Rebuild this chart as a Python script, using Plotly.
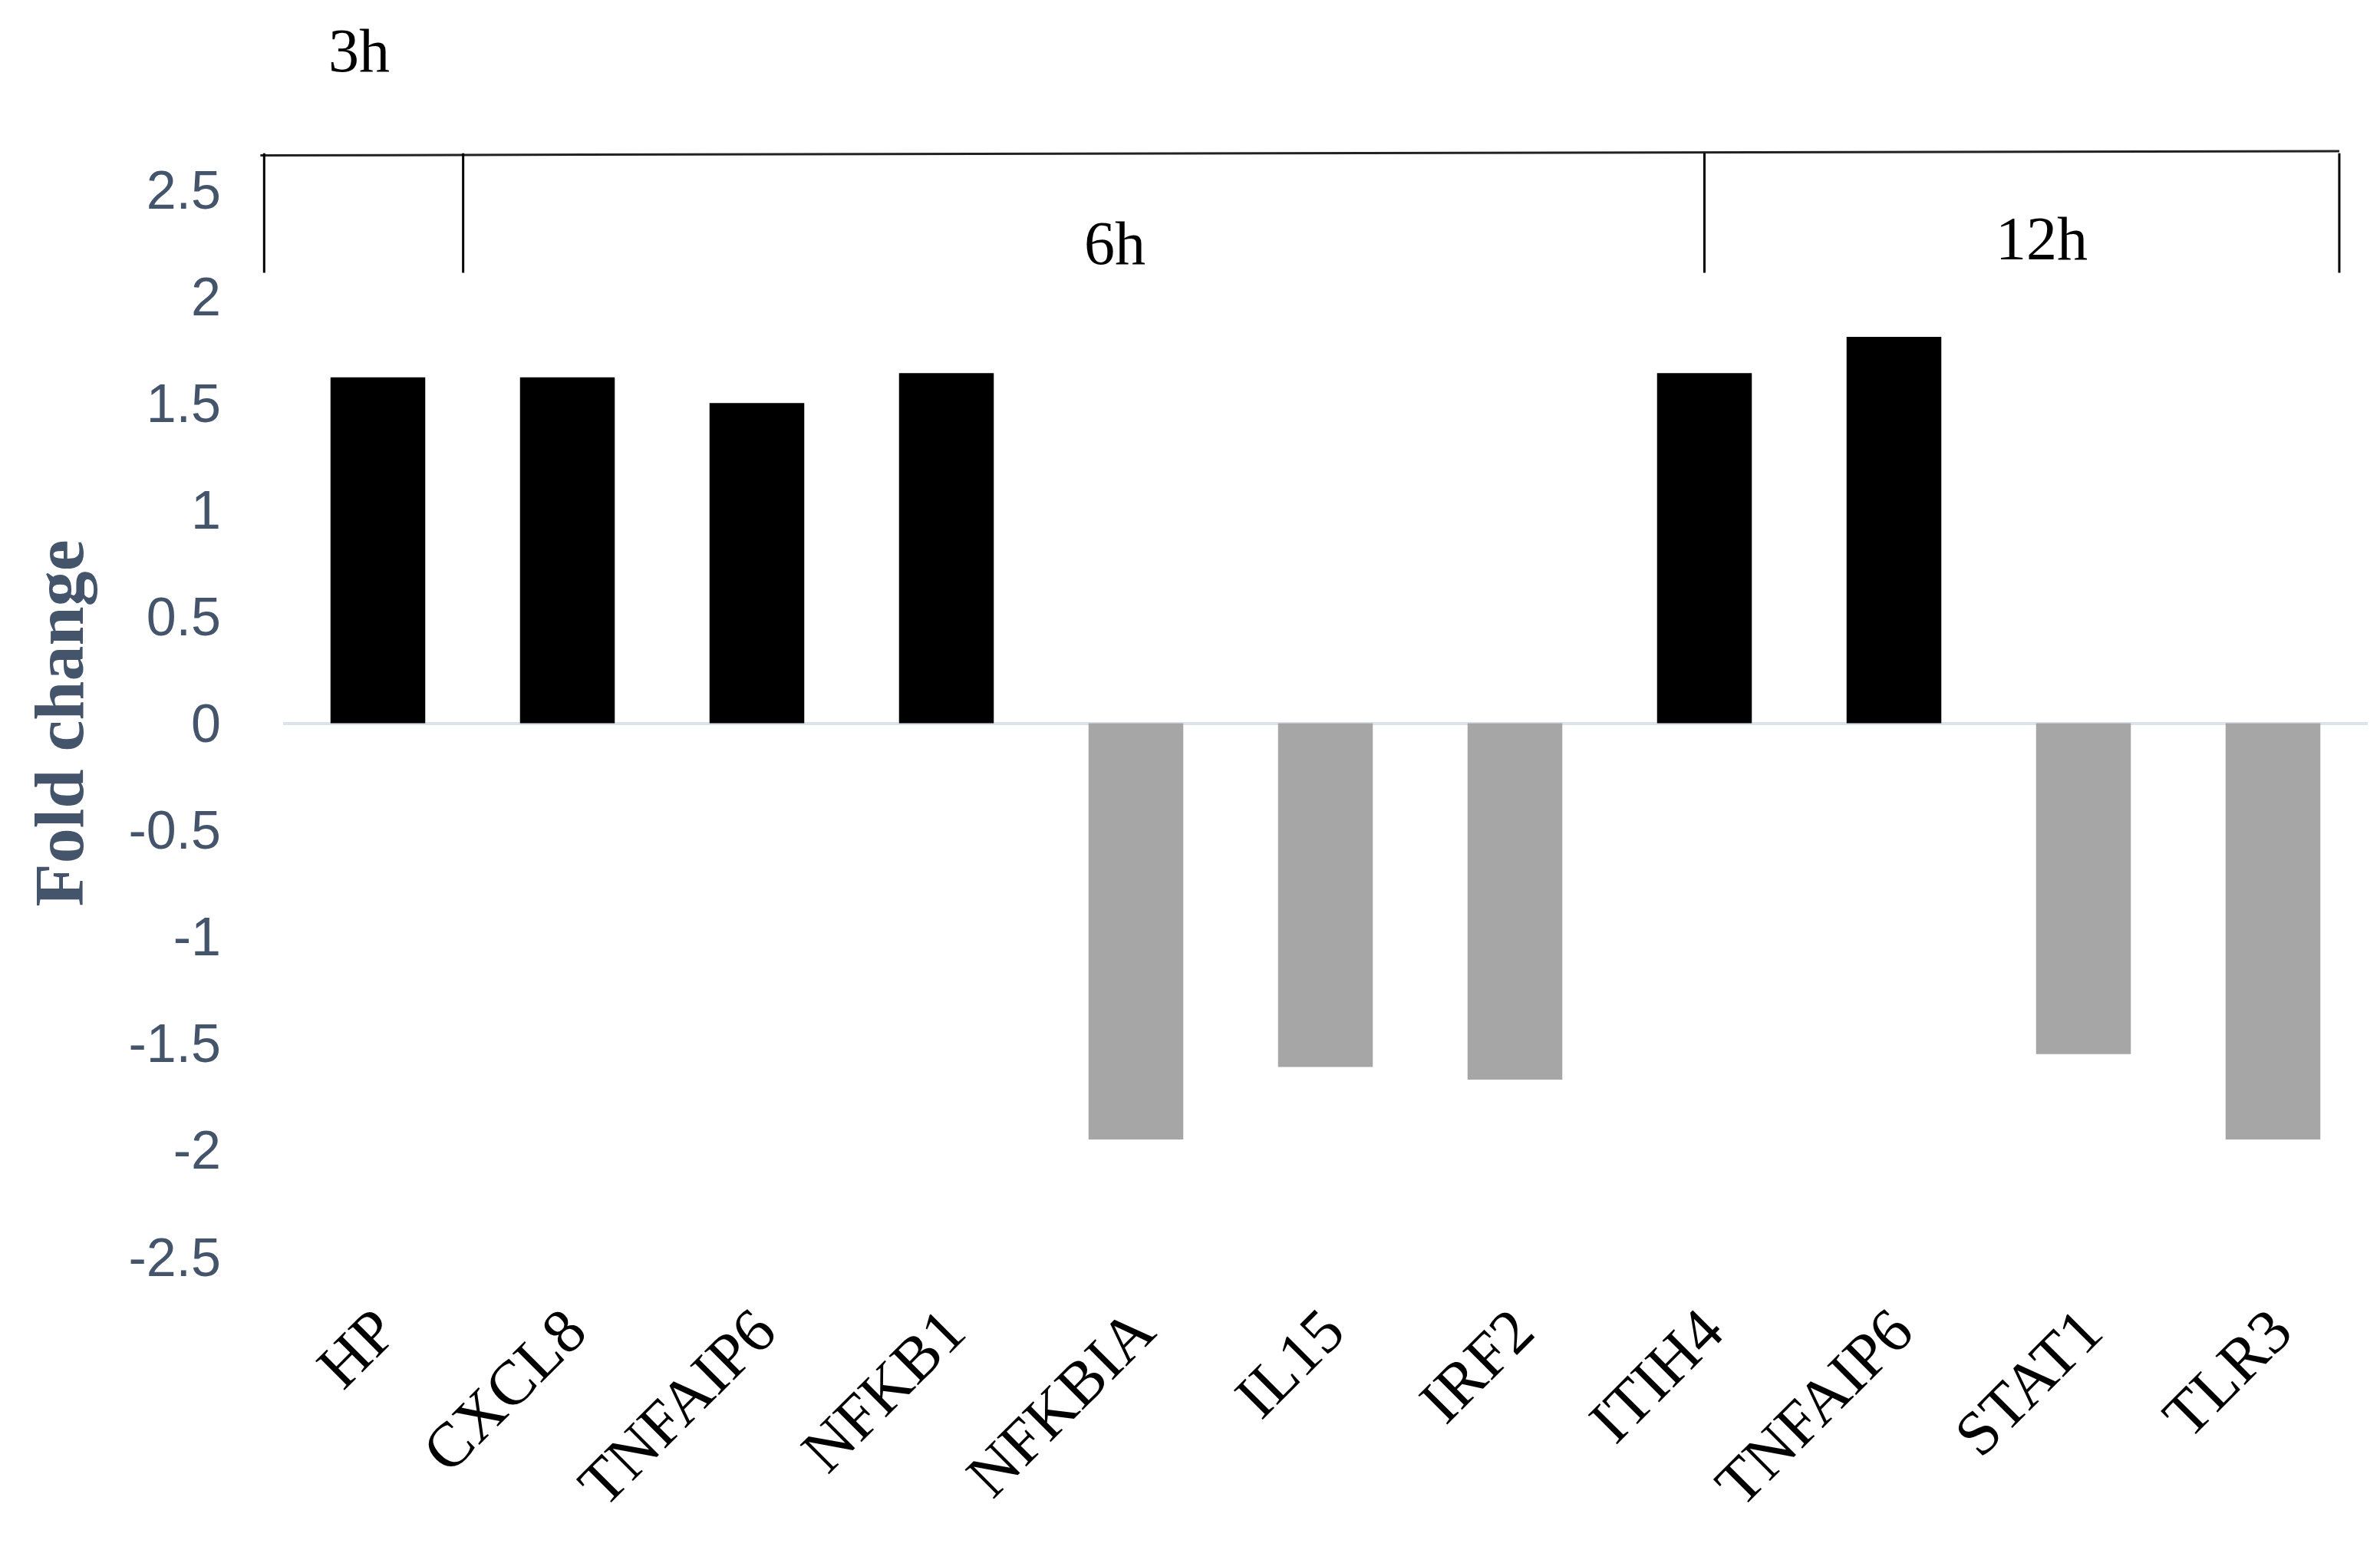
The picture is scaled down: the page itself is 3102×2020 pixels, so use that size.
import plotly.graph_objects as go

genes = ["HP", "CXCL8", "TNFAIP6", "NFKB1", "NFKBIA", "IL15", "IRF2",
         "ITIH4", "TNFAIP6", "STAT1", "TLR3"]
fold_change = [1.62, 1.62, 1.50, 1.64, -1.95, -1.61, -1.67, 1.64, 1.81, -1.55, -1.95]

y_ticks = [2.5, 2, 1.5, 1, 0.5, 0, -0.5, -1, -1.5, -2, -2.5]

# time-point brackets drawn over the bars (hand drawn in the original)
groups = ["3h", "6h", "12h"]
group_edges = [-0.6, 0.45, 7.0, 10.35]

x = list(range(len(genes)))
colors = ["#000000" if v > 0 else "#a6a6a6" for v in fold_change]

x_range = [-0.5, len(genes) - 0.5]
y_range = [-2.5, 2.5]


# bracket sits partly outside the axes, so place it in paper units
def px(v):
    return (v - x_range[0]) / (x_range[1] - x_range[0])


def py(v):
    return (v - y_range[0]) / (y_range[1] - y_range[0])


fig = go.Figure()
fig.add_trace(go.Bar(x=x, y=fold_change, marker=dict(color=colors, line=dict(width=0)),
                     width=0.5, showlegend=False))

top_y, bottom_y = 2.67, 2.11
fig.add_shape(type="line", xref="paper", yref="paper",
              x0=px(group_edges[0] - 0.02), x1=px(group_edges[-1]),
              y0=py(top_y - 0.01), y1=py(top_y + 0.01), line=dict(color="#222222", width=3))
for e in group_edges:
    fig.add_shape(type="line", xref="paper", yref="paper", x0=px(e), x1=px(e),
                  y0=py(top_y), y1=py(bottom_y), line=dict(color="black", width=3))

label_pos = [(-0.1, 3.15), (3.89, 2.25), (8.78, 2.27)]
for g, (gx, gy) in zip(groups, label_pos):
    fig.add_annotation(x=px(gx), y=py(gy), xref="paper", yref="paper", text=g,
                       showarrow=False, xanchor="center", yanchor="middle",
                       font=dict(family="Liberation Serif", size=80, color="black"))

# page body adds an 8px margin, so the figure is 8px smaller each way
fig.update_layout(
    width=3094, height=2012,
    margin=dict(l=361, r=16, t=239, b=382),
    plot_bgcolor="white", paper_bgcolor="white",
    bargap=0.5,
)
fig.update_xaxes(
    tickmode="array", tickvals=x, ticktext=genes, tickangle=-45,
    range=x_range, automargin=False,
    showgrid=False, showline=False, zeroline=False,
    ticks="outside", ticklen=14, tickcolor="rgba(0,0,0,0)",
    tickfont=dict(family="Liberation Serif", size=82, color="black"),
)
fig.update_yaxes(
    range=y_range, tickmode="array", tickvals=y_ticks, automargin=False,
    ticktext=[("-" if t < 0 else "") + f"{abs(t):g}" for t in y_ticks],
    showgrid=False, showline=False,
    zeroline=True, zerolinecolor="#dde3ea", zerolinewidth=4,
    ticks="outside", ticklen=66, tickcolor="rgba(0,0,0,0)",
    tickfont=dict(family="Liberation Sans", size=70, color="#44546a"),
    title=dict(text="<b>Fold change</b>", standoff=28,
               font=dict(family="Liberation Serif", size=92, color="#44546a")),
)

fig.write_html("out.html")
